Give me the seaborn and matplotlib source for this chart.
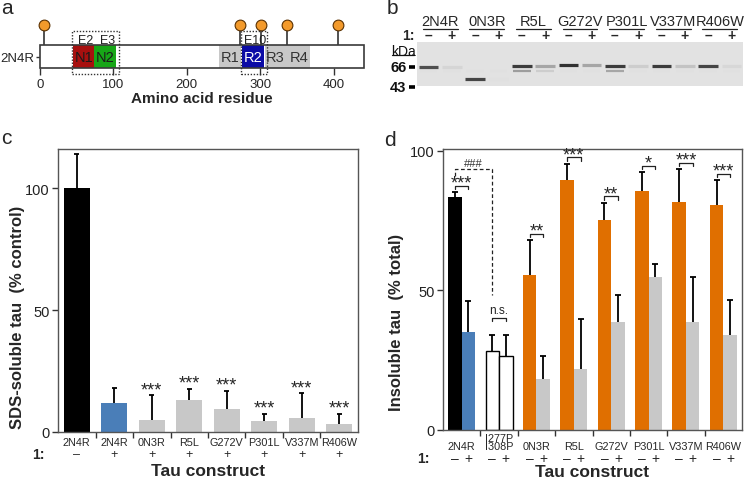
import numpy as np
import pandas as pd
import matplotlib
matplotlib.use('Agg')
import matplotlib.pyplot as plt
import matplotlib.transforms as mtransforms
from matplotlib.patches import Rectangle
from matplotlib.ticker import NullLocator, FixedLocator
import seaborn as sns

# ---------------- data ----------------
# a: 2N4R tau domain map
protein_len = 441
domain_names = ['N1', 'N2', 'R1', 'R2', 'R3', 'R4']
domain_start = [45, 74, 244, 275, 306, 337]
domain_end = [74, 103, 274, 305, 336, 368]
domain_colors = ['#a8100f', '#17a617', '#c8c8c8', '#0b0ba6', '#c8c8c8', '#c8c8c8']
domain_text = ['#1a1a1a', '#1a1a1a', '#333333', 'white', '#333333', '#333333']
mutation_sites = [5, 272, 301, 337, 406]
exon_names = ['E2', 'E3', 'E10']
exon_start = [45, 74, 275]
exon_end = [74, 103, 305]

# b: gel, 14 lanes (– / + per construct)
gel_groups = ['2N4R', '0N3R', 'R5L', 'G272V', 'P301L', 'V337M', 'R406W']
gel_signs = ['–', '+'] * 7
gel_band_kda = [66, 66, 51, 51, 67.5, 67.5, 69, 69, 67.5, 67.5, 67, 67, 67.5, 67.5]
gel_band_int = [0.75, 0.06, 0.8, 0.0, 0.85, 0.3, 0.9, 0.3, 0.85, 0.1, 0.85, 0.15, 0.8, 0.05]
gel_lower_kda = 61
gel_lower_int = [0, 0, 0, 0, 0.35, 0.1, 0, 0, 0.3, 0, 0, 0, 0, 0]
marker_kda = [66, 43]

# c: SDS-soluble tau
c_names = ['2N4R', '2N4R', '0N3R', 'R5L', 'G272V', 'P301L', 'V337M', 'R406W']
c_treat = ['–', '+', '+', '+', '+', '+', '+', '+']
c_mean = [100, 11.7, 4.9, 13.0, 9.6, 4.5, 5.6, 3.1]
c_err = [13.8, 6.5, 10.2, 4.8, 7.4, 3.0, 10.2, 4.4]
c_sig = ['', '', '***', '***', '***', '***', '***', '***']

# d: insoluble tau
d_groups = ['2N4R', 'I277P\nI308P', '0N3R', 'R5L', 'G272V', 'P301L', 'V337M', 'R406W']
d_minus = [83.5, 28.3, 55.6, 89.6, 75.2, 85.7, 81.6, 80.5]
d_minus_err = [1.9, 5.8, 12.4, 5.9, 6.3, 6.8, 12.0, 9.1]
d_plus = [35.1, 26.5, 18.4, 22.0, 38.7, 55.0, 38.7, 34.1]
d_plus_err = [11.3, 7.6, 8.1, 17.9, 9.7, 4.5, 16.3, 12.6]
d_sig = ['***', 'n.s.', '**', '***', '**', '*', '***', '***']

BLACK = '#000000'
BLUE = '#4a7eb8'
GRAY = '#c8c8c8'
ORANGE = '#e06f00'
c_colors = [BLACK, BLUE] + [GRAY] * 6
d_minus_colors = [BLACK, 'white'] + [ORANGE] * 6
d_plus_colors = [BLUE, 'white'] + [GRAY] * 6

# ---------------- figure ----------------
sns.set_style('ticks')
plt.rcParams['font.family'] = ['Liberation Sans', 'DejaVu Sans']
W, H = 745, 481
fig = plt.figure(figsize=(W / 100, H / 100), dpi=100)


def px_axes(l, t, r, b):
    return fig.add_axes([l / W, 1 - b / H, (r - l) / W, (b - t) / H])


# ---- a ----
axa = px_axes(40, 18, 363.7, 69)
axa.set_xlim(0, protein_len)
axa.set_ylim(0, 2.22)
axa.barh(0.5, protein_len, left=0, height=1, color='white', lw=0, zorder=2)
axa.barh([0.5] * len(domain_names), np.subtract(domain_end, domain_start), left=domain_start,
         height=1, color=domain_colors, lw=0, zorder=3)
for n, s, e, tc in zip(domain_names, domain_start, domain_end, domain_text):
    axa.text((s + e) / 2, 0.48, n, ha='center', va='center', color=tc, fontsize=10.5, zorder=4)
axa.add_patch(Rectangle((0, 0), protein_len, 1, fill=False, ec='#3a3a3a', lw=1.2, zorder=5, clip_on=False))
axa.vlines(mutation_sites, 1, 1.87, color='#333333', lw=1.2, zorder=1, clip_on=False)
axa.scatter(mutation_sites, [1.87] * len(mutation_sites), s=60, c='#f39a2b', edgecolors='#5a3000',
            linewidths=0.8, zorder=6, clip_on=False)
# exon boxes (merge contiguous exons)
boxes = []
for s, e in zip(exon_start, exon_end):
    if boxes and boxes[-1][1] == s:
        boxes[-1][1] = e
    else:
        boxes.append([s, e])
for s, e in boxes:
    axa.add_patch(Rectangle((s - 1, -0.26), e - s + 5, 1.86, fill=False, ls=(0, (1, 1.2)),
                            ec='#333333', lw=1, zorder=7, clip_on=False))
for n, s, e in zip(exon_names, exon_start, exon_end):
    axa.text((s + e) / 2 + 3, 1.24, n, ha='center', va='center', fontsize=9, color='#222222')
for sp in axa.spines.values():
    sp.set_visible(False)
axa.set_xticks([0, 100, 200, 300, 400])
axa.set_yticks([0.5])
axa.set_yticklabels(['2N4R'])
axa.tick_params(axis='x', length=5, width=1, labelsize=9.5, pad=2, color='#333333')
axa.tick_params(axis='y', length=3, width=1, labelsize=9.5, pad=1, color='#333333')
axa.set_xlabel('Amino acid residue', fontsize=11, fontweight='bold')
axa.xaxis.set_label_coords(0.5, -0.45)

# ---- b ----
axb = px_axes(417, 43, 743, 87)
axb.set_facecolor('#e2e2e2')
lanes = np.arange(len(gel_band_kda))
axb.set_xlim(-0.5, 13.5)
axb.set_yscale('log')
axb.set_ylim(43.9, 112.6)
bg = 0.88
band_cols = [str(bg * (1 - i) + 0.12 * i) for i in gel_band_int]
low_cols = [str(bg * (1 - i) + 0.12 * i) for i in gel_lower_int]
axb.hlines([gel_lower_kda] * len(lanes), lanes - 0.38, lanes + 0.38, colors=low_cols, lw=1.6)
axb.hlines(gel_band_kda, lanes - 0.42, lanes + 0.42, colors=band_cols, lw=2.3)
axb.set_xticks([])
axb.set_yticks([])
axb.yaxis.set_minor_locator(NullLocator())
for sp in axb.spines.values():
    sp.set_visible(False)
axb.hlines(marker_kda, -0.86, -0.6, color='black', lw=2.6, clip_on=False)
for m in marker_kda:
    axb.text(-0.95, m, str(m), ha='right', va='center', fontsize=10.5, fontweight='bold', color='#111111')
axb.text(-1.1, 93, 'kDa', ha='center', va='center', fontsize=10, color='#111111')
axb.plot([-1.57, -0.62], [85.0, 85.0], color='#111111', lw=0.9, clip_on=False)
tb = mtransforms.blended_transform_factory(axb.transData, axb.transAxes)
for g, name in enumerate(gel_groups):
    axb.text(2 * g + 0.5, 1.47, name, transform=tb, ha='center', va='center', fontsize=10.5)
    axb.plot([2 * g - 0.25, 2 * g + 1.25], [1.3, 1.3], transform=tb, color='#222222', lw=0.9, clip_on=False)
for i, sgn in zip(lanes, gel_signs):
    axb.text(i, 1.17, sgn, transform=tb, ha='center', va='center', fontsize=10, fontweight='bold')
axb.text(-0.006, 1.17, '1:', transform=axb.transAxes, ha='right', va='center', fontsize=10, fontweight='bold')


def style_panel(ax):
    for sp in ax.spines.values():
        sp.set_color('#555555')
        sp.set_linewidth(1)
    ax.set_xlim(-0.5, 7.5)
    ax.set_yticks([0, 50, 100])
    ax.tick_params(axis='y', length=4, width=1, labelsize=10.5, color='#333333', labelcolor='#222222', pad=2)
    ax.xaxis.set_minor_locator(FixedLocator(np.arange(0.5, 7, 1)))
    ax.tick_params(axis='x', which='major', length=0, labelbottom=False)
    ax.tick_params(axis='x', which='minor', length=4, width=1, color='#333333', direction='out')


# ---- c ----
axc = px_axes(58, 150, 358, 433)
df_c = pd.DataFrame({'key': [f'{n} {t}' for n, t in zip(c_names, c_treat)], 'value': c_mean})
sns.barplot(data=df_c, x='key', y='value', hue='key', palette=c_colors, saturation=1, width=0.7,
            errorbar=None, legend=False, ax=axc, linewidth=0)
style_panel(axc)
axc.set_ylim(0, 116)
xc = np.array([p.get_x() + p.get_width() / 2 for p in axc.patches])
top_c = np.array(c_mean) + np.array(c_err)
axc.vlines(xc, c_mean, top_c, color='black', lw=1.3)
axc.hlines(top_c, xc - 0.07, xc + 0.07, color='black', lw=1.3)
for x, t, s in zip(xc, top_c, c_sig):
    if s:
        axc.text(x, t + 2.2, s, ha='center', va='center', fontsize=13)
tc = mtransforms.blended_transform_factory(axc.transData, axc.transAxes)
for x, n, t in zip(xc, c_names, c_treat):
    axc.text(x, -0.036, n, transform=tc, ha='center', va='center', fontsize=7.8)
    axc.text(x, -0.079, t, transform=tc, ha='center', va='center', fontsize=9)
axc.text(-0.045, -0.079, '1:', transform=axc.transAxes, ha='right', va='center', fontsize=10, fontweight='bold')
axc.set_xlabel('Tau construct', fontsize=12.5, fontweight='bold')
axc.xaxis.set_label_coords(0.5, -0.11)
axc.set_ylabel('SDS-soluble tau  (% control)', fontsize=12, fontweight='bold')
axc.yaxis.set_label_coords(-0.11, 0.41)

# ---- d ----
axd = px_axes(443, 150, 742, 431)
df_d = pd.DataFrame({'group': d_groups * 2, 'treat': ['–'] * 8 + ['+'] * 8, 'value': d_minus + d_plus})
sns.barplot(data=df_d, x='group', y='value', hue='treat', hue_order=['–', '+'], order=d_groups,
            palette=[ORANGE, GRAY], saturation=1, width=0.72, errorbar=None, legend=False,
            ax=axd, linewidth=0)
style_panel(axd)
axd.set_ylim(0, 100.7)
xm = np.array([p.get_x() + p.get_width() / 2 for p in axd.containers[0]])
xp = np.array([p.get_x() + p.get_width() / 2 for p in axd.containers[1]])
for bars, cols in zip(axd.containers, [d_minus_colors, d_plus_colors]):
    for p, col in zip(bars, cols):
        p.set_facecolor(col)
        if col == 'white':
            p.set_edgecolor('black')
            p.set_linewidth(1)
top_m = np.array(d_minus) + np.array(d_minus_err)
top_p = np.array(d_plus) + np.array(d_plus_err)
for xs, ys, tops in [(xm, d_minus, top_m), (xp, d_plus, top_p)]:
    axd.vlines(xs, ys, tops, color='black', lw=1.3)
    axd.hlines(tops, xs - 0.08, xs + 0.08, color='black', lw=1.3)
for a, b, t1, t2, s in zip(xm, xp, top_m, top_p, d_sig):
    yb = max(t1, t2) + (6 if s == 'n.s.' else 2.2)
    axd.plot([a, a, b, b], [yb - 1.2, yb, yb, yb - 1.2], color='#222222', lw=0.9)
    if s == 'n.s.':
        axd.text((a + b) / 2, yb + 0.6, s, ha='center', va='bottom', fontsize=8.5, color='#222222')
    else:
        axd.text((a + b) / 2, yb + 1.0, s, ha='center', va='center', fontsize=13)
# ### comparison (2N4R + 1 vs I277P/I308P)
axd.plot([xm[0], xm[0], xm[1], xm[1]], [91, 93.5, 93.5, 48.4], color='#222222', lw=0.9, ls=(0, (3, 2)))
axd.text((xm[0] + xm[1]) / 2, 95.8, '###', ha='center', va='center', fontsize=8, color='#333333')
td = mtransforms.blended_transform_factory(axd.transData, axd.transAxes)
for x, n in zip((xm + xp) / 2, d_groups):
    axd.text(x, -0.076, n, transform=td, ha='center', va='bottom', fontsize=7.8, linespacing=0.8)
for a, b in zip(xm, xp):
    axd.text(a, -0.1, '–', transform=td, ha='center', va='center', fontsize=10)
    axd.text(b, -0.1, '+', transform=td, ha='center', va='center', fontsize=10)
axd.text(-0.045, -0.1, '1:', transform=axd.transAxes, ha='right', va='center', fontsize=10, fontweight='bold')
axd.set_xlabel('Tau construct', fontsize=12.5, fontweight='bold')
axd.xaxis.set_label_coords(0.5, -0.12)
axd.set_ylabel('Insoluble tau  (% total)', fontsize=12, fontweight='bold')
axd.yaxis.set_label_coords(-0.13, 0.385)

# panel letters
for letter, (x, y) in zip('abcd', [(7, 9), (392, 9), (6, 138), (390, 140)]):
    fig.text(x / W, 1 - y / H, letter, ha='center', va='center', fontsize=15)

fig.savefig('out.png', dpi=100)
